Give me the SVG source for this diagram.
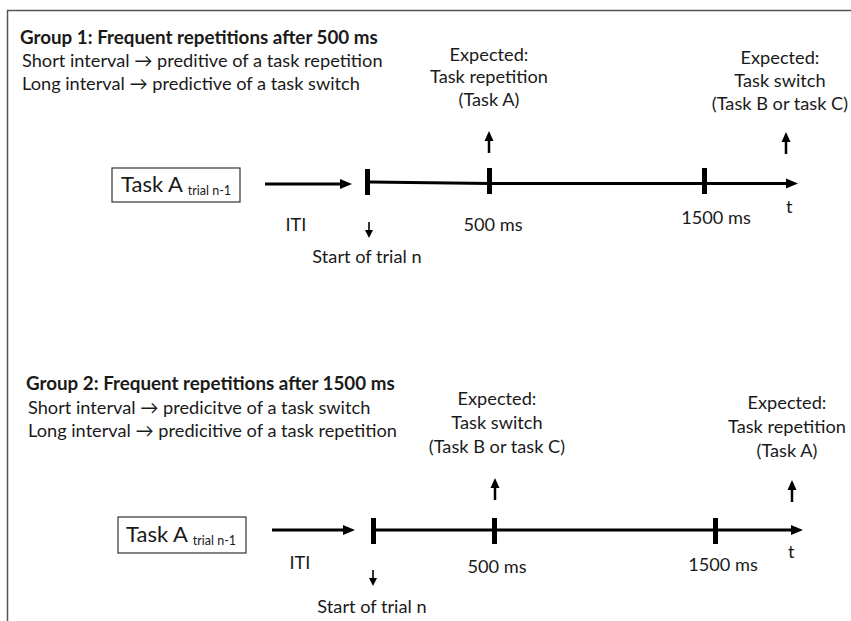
<svg xmlns="http://www.w3.org/2000/svg" width="851" height="621" viewBox="0 0 851 621">
<defs>
<style>
text{font-family:Lato,"Open Sans","Liberation Sans",sans-serif;fill:#1a1a1a;font-size:18.2px}
.h{font-weight:bold;font-size:18.8px}
.c{text-anchor:middle}
.big{font-size:22px}
.sub{font-size:12.5px}
.box{fill:#fff;stroke:#333;stroke-width:1.2}
.ln{stroke:#000;stroke-width:3;fill:none}
.up{stroke:#000;stroke-width:2.5;fill:none}
.dn{stroke:#000;stroke-width:1.6;fill:none}
.tk{fill:#000}
</style>
</defs>
<rect width="851" height="621" fill="#fff"/>
<path d="M7.5,621 V10.5 H851" fill="none" stroke="#555" stroke-width="1.5"/>

<g id="group1-legend">
<text class="h" x="20" y="44">Group 1: Frequent repetitions after 500 ms</text>
<text x="22" y="67">Short interval → preditive of a task repetition</text>
<text x="22" y="90">Long interval  → predictive of a task switch</text>
</g>
<g id="g1-taskA">
<rect class="box" x="112" y="168" width="128" height="34"/>
<text class="big" x="121" y="192">Task A <tspan class="sub" dy="3">trial n-1</tspan></text>
</g>
<g id="g1-expected-rep">
<text class="c" x="489" y="61">Expected:</text>
<text class="c" x="489" y="83">Task repetition</text>
<text class="c" x="489" y="106">(Task A)</text>
</g>
<g id="g1-expected-switch">
<text class="c" x="780" y="64">Expected:</text>
<text class="c" x="780" y="87">Task switch</text>
<text class="c" x="780" y="110">(Task B or task C)</text>
</g>
<g id="g1-labels">
<text class="c" x="296" y="231">ITI</text>
<text class="c" x="367" y="263">Start of trial n</text>
<text class="c" x="493" y="231">500 ms</text>
<text class="c" x="716" y="224">1500 ms</text>
<text x="786" y="213">t</text>
</g>

<g id="group2-legend">
<text class="h" x="26" y="390">Group 2: Frequent repetitions after 1500 ms</text>
<text x="28" y="414">Short interval → predicitve of a task switch</text>
<text x="28" y="437">Long interval  → predicitive of a task repetition</text>
</g>
<g id="g2-taskA">
<rect class="box" x="118" y="517" width="128" height="36"/>
<text class="big" x="126" y="542">Task A <tspan class="sub" dy="3">trial n-1</tspan></text>
</g>
<g id="g2-expected-switch">
<text class="c" x="497" y="405">Expected:</text>
<text class="c" x="497" y="429">Task switch</text>
<text class="c" x="497" y="453">(Task B or task C)</text>
</g>
<g id="g2-expected-rep">
<text class="c" x="787" y="409">Expected:</text>
<text class="c" x="787" y="433">Task repetition</text>
<text class="c" x="787" y="457">(Task A)</text>
</g>
<g id="g2-labels">
<text class="c" x="300" y="569">ITI</text>
<text class="c" x="372" y="613">Start of trial n</text>
<text class="c" x="497" y="573">500 ms</text>
<text class="c" x="723" y="571">1500 ms</text>
<text x="788" y="558">t</text>
</g>

<g id="connectors">
<line class="ln" x1="265" y1="184" x2="342" y2="184"/>
<polygon class="tk" points="340,179 352,184 340,189"/>
<rect class="tk" x="365" y="169" width="5" height="26"/>
<line class="ln" x1="370" y1="182" x2="490" y2="183.5"/>
<line class="ln" x1="490" y1="183.5" x2="788" y2="183.5"/>
<polygon class="tk" points="786,178.5 798,183.5 786,188.5"/>
<rect class="tk" x="487" y="168" width="5" height="26"/>
<rect class="tk" x="702" y="168" width="5" height="26"/>
<line class="up" x1="489" y1="153" x2="489" y2="139"/>
<polygon class="tk" points="484.5,141 489,131 493.5,141"/>
<line class="up" x1="786" y1="154" x2="786" y2="140"/>
<polygon class="tk" points="781.5,142 786,132 790.5,142"/>
<line class="dn" x1="369" y1="222" x2="369" y2="231"/>
<polygon class="tk" points="365,230 369,238 373,230"/>

<line class="ln" x1="272" y1="530" x2="345" y2="530"/>
<polygon class="tk" points="343,525 355,530 343,535"/>
<rect class="tk" x="371" y="518" width="5" height="26"/>
<line class="ln" x1="376" y1="530" x2="793" y2="530"/>
<polygon class="tk" points="791,525 803,530 791,535"/>
<rect class="tk" x="492" y="518" width="5" height="26"/>
<rect class="tk" x="713" y="518" width="5" height="26"/>
<line class="up" x1="495" y1="500" x2="495" y2="486"/>
<polygon class="tk" points="490.5,488 495,478 499.5,488"/>
<line class="up" x1="792" y1="502" x2="792" y2="488"/>
<polygon class="tk" points="787.5,490 792,480 796.5,490"/>
<line class="dn" x1="373" y1="570" x2="373" y2="579"/>
<polygon class="tk" points="369,578 373,586 377,578"/>
</g>
</svg>
